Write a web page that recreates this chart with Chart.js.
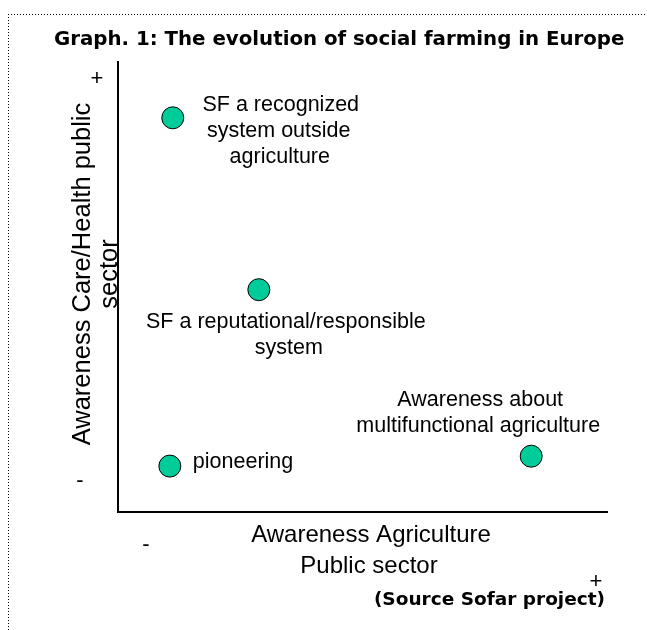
<!DOCTYPE html>
<html>
<head>
<meta charset="utf-8">
<script src="https://cdn.jsdelivr.net/npm/chart.js@4.4.0/dist/chart.umd.min.js"></script>
<style>
  html, body { margin: 0; padding: 0; background: #fff; }
  #wrap { width: 647px; height: 630px; }
</style>
</head>
<body>
<div id="wrap"><canvas id="sfChart" width="647" height="630"></canvas></div>
<script>
// stages of social farming
const stages = [
  ['SF a recognized', 'system outside', 'agriculture'],
  ['SF a reputational/responsible', 'system'],
  ['pioneering'],
  ['Awareness about', 'multifunctional agriculture']
];
// awareness of agriculture public sector (x), care/health public sector (y), 0..100
const agriAwareness = [11.2, 28.8, 10.6, 84.5];
const careAwareness = [87.6, 49.4, 10.2, 12.4];

const chartTitle = 'Graph. 1: The evolution of social farming in Europe';
const xTitle = ['Awareness Agriculture', 'Public sector'];
const yTitle = ['Awareness Care/Health public', 'sector'];
const sourceNote = '(Source Sofar project)';

// where each label line sits, relative to its point
const labelLayout = [
  { align: 'center', lines: [[108, -13], [106, 13], [107, 39]] },
  { align: 'center', lines: [[27, 32], [30, 58]] },
  { align: 'left', lines: [[23, -4]] },
  { align: 'center', lines: [[-51, -56], [-53, -30]] }
];

const points = agriAwareness.map((x, i) => ({ x: x, y: careAwareness[i] }));

const textPlugin = {
  id: 'sfText',
  afterDraw(chart) {
    const ctx = chart.ctx;
    const area = chart.chartArea;
    ctx.save();

    // dotted frame
    ctx.strokeStyle = '#000';
    ctx.lineWidth = 1;
    ctx.setLineDash([1, 2]);
    ctx.beginPath();
    ctx.moveTo(8, 14.5); ctx.lineTo(647, 14.5);
    ctx.moveTo(8.5, 14); ctx.lineTo(8.5, 630);
    ctx.stroke();
    ctx.setLineDash([]);

    ctx.fillStyle = '#000';
    ctx.textBaseline = 'middle';

    // title
    ctx.font = 'bold 19.8px "DejaVu Sans"';
    ctx.textAlign = 'left';
    ctx.fillText(chartTitle, 54, 40);

    // labels next to the points
    ctx.font = '21.5px "Liberation Sans", Arial';
    const meta = chart.getDatasetMeta(0);
    meta.data.forEach((pt, i) => {
      const lay = labelLayout[i];
      ctx.textAlign = lay.align;
      stages[i].forEach((line, j) => {
        ctx.fillText(line, pt.x + lay.lines[j][0], pt.y + lay.lines[j][1]);
      });
    });

    // axis titles
    ctx.font = '24px "Liberation Sans", Arial';
    ctx.textAlign = 'center';
    ctx.fillText(xTitle[0], 371, area.bottom + 23);
    ctx.fillText(xTitle[1], 369, area.bottom + 54);

    ctx.save();
    ctx.font = '25.5px "Liberation Sans", Arial';
    ctx.translate(area.left - 35, 274);
    ctx.rotate(-Math.PI / 2);
    ctx.fillText(yTitle[0], 0, 0);
    ctx.fillText(yTitle[1], 0, 27);
    ctx.restore();

    // +/- signs
    ctx.font = '22px "Liberation Sans", Arial';
    ctx.fillText('+', area.left - 21, area.top + 17);
    ctx.fillText('-', area.left - 38, area.bottom - 31);
    ctx.fillText('-', area.left + 28, area.bottom + 33);
    ctx.fillText('+', area.right - 11, area.bottom + 70);

    // source
    ctx.font = 'bold 18.5px "DejaVu Sans"';
    ctx.textAlign = 'right';
    ctx.fillText(sourceNote, 605, 600);

    ctx.restore();
  }
};

new Chart(document.getElementById('sfChart'), {
  type: 'scatter',
  data: {
    datasets: [{
      data: points,
      pointRadius: 11,
      pointBackgroundColor: '#00CC99',
      pointBorderColor: '#000',
      pointBorderWidth: 1
    }]
  },
  options: {
    responsive: false,
    animation: false,
    layout: { padding: { left: 118, top: 62, right: 40, bottom: 118 } },
    plugins: {
      legend: { display: false },
      tooltip: { enabled: false }
    },
    scales: {
      x: {
        min: 0, max: 100,
        ticks: { display: false },
        grid: { display: false, drawTicks: false },
        border: { display: true, color: '#000', width: 2 }
      },
      y: {
        min: 0, max: 100,
        ticks: { display: false },
        grid: { display: false, drawTicks: false },
        border: { display: true, color: '#000', width: 2 }
      }
    }
  },
  plugins: [textPlugin]
});
</script>
</body>
</html>
